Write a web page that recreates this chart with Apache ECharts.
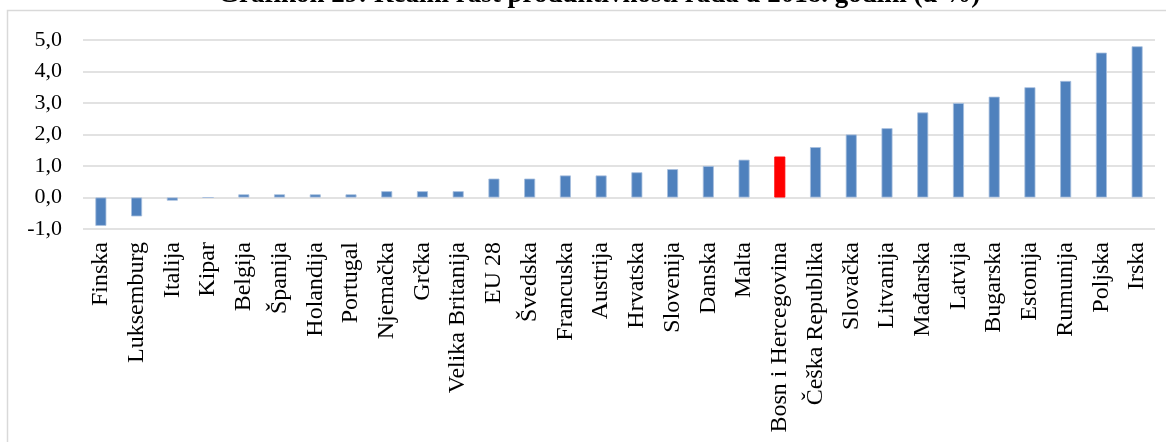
<!DOCTYPE html>
<html>
<head>
  <meta charset="UTF-8">
  <title>Grafikon 29</title>
  <style>
    * { padding: 0; margin: 0; }
    html, body { width: 100%; height: 100%; background: #fff; }
    #chart { width: 1166px; height: 442px; }
  </style>
  <script src="https://cdn.jsdelivr.net/npm/echarts@6/dist/echarts.min.js"></script>
</head>
<body>
  <div id="chart"></div>
  <script>
    // categories and values (%)
    var countries = ['Finska', 'Luksemburg', 'Italija', 'Kipar', 'Belgija', 'Španija', 'Holandija',
      'Portugal', 'Njemačka', 'Grčka', 'Velika Britanija', 'EU 28', 'Švedska', 'Francuska',
      'Austrija', 'Hrvatska', 'Slovenija', 'Danska', 'Malta', 'Bosn i Hercegovina',
      'Češka Republika', 'Slovačka', 'Litvanija', 'Mađarska', 'Latvija', 'Bugarska',
      'Estonija', 'Rumunija', 'Poljska', 'Irska'];
    var growth = [-0.9, -0.6, -0.1, 0.0, 0.1, 0.1, 0.1, 0.1, 0.2, 0.2, 0.2, 0.6, 0.6, 0.7,
      0.7, 0.8, 0.9, 1.0, 1.2, 1.3, 1.6, 2.0, 2.2, 2.7, 3.0, 3.2, 3.5, 3.7, 4.6, 4.8];
    var highlighted = 'Bosn i Hercegovina';

    var chart = echarts.init(document.getElementById('chart'));
    var font = '"Liberation Serif", "Times New Roman", serif';

    var seriesData = countries.map(function (name, i) {
      var item = { value: growth[i] };
      if (name === highlighted) {
        item.itemStyle = { color: '#ff0000', borderColor: '#ff0000' };
      }
      return item;
    });

    var option = {
      backgroundColor: '#fff',
      animation: false,
      title: {
        text: 'Grafikon 29: Realni rast produktivnosti rada u 2018. godini (u %)',
        left: 213,
        top: -23,
        textStyle: { fontFamily: font, fontWeight: 'bold', fontSize: 27, color: '#000' }
      },
      graphic: [{
        type: 'rect',
        shape: { x: 7.5, y: 10.5, width: 1170, height: 440 },
        style: { fill: 'none', stroke: '#d9d9d9', lineWidth: 1.5 },
        silent: true
      }],
      grid: {
        left: 83,
        right: 11,
        top: 40,
        bottom: 213,
        containLabel: false,
        outerBoundsMode: 'none'
      },
      xAxis: {
        type: 'category',
        data: countries,
        axisLine: { show: false },
        axisTick: { show: false },
        axisLabel: {
          rotate: 90,
          interval: 0,
          margin: 13,
          fontFamily: font,
          fontSize: 24,
          color: '#000'
        }
      },
      yAxis: {
        type: 'value',
        min: -1,
        max: 5,
        interval: 1,
        axisLine: { show: false },
        axisTick: { show: false },
        axisLabel: {
          margin: 21,
          fontFamily: font,
          fontSize: 22,
          color: '#000',
          formatter: function (v) { return v.toFixed(1).replace('.', ','); }
        },
        splitLine: { lineStyle: { color: '#d9d9d9', width: 1.5 } }
      },
      series: [{
        type: 'bar',
        data: seriesData,
        barWidth: 11,
        itemStyle: { color: '#4f81bd', borderColor: '#a7bfde', borderWidth: 0.8 }
      }]
    };

    chart.setOption(option);
  </script>
</body>
</html>
